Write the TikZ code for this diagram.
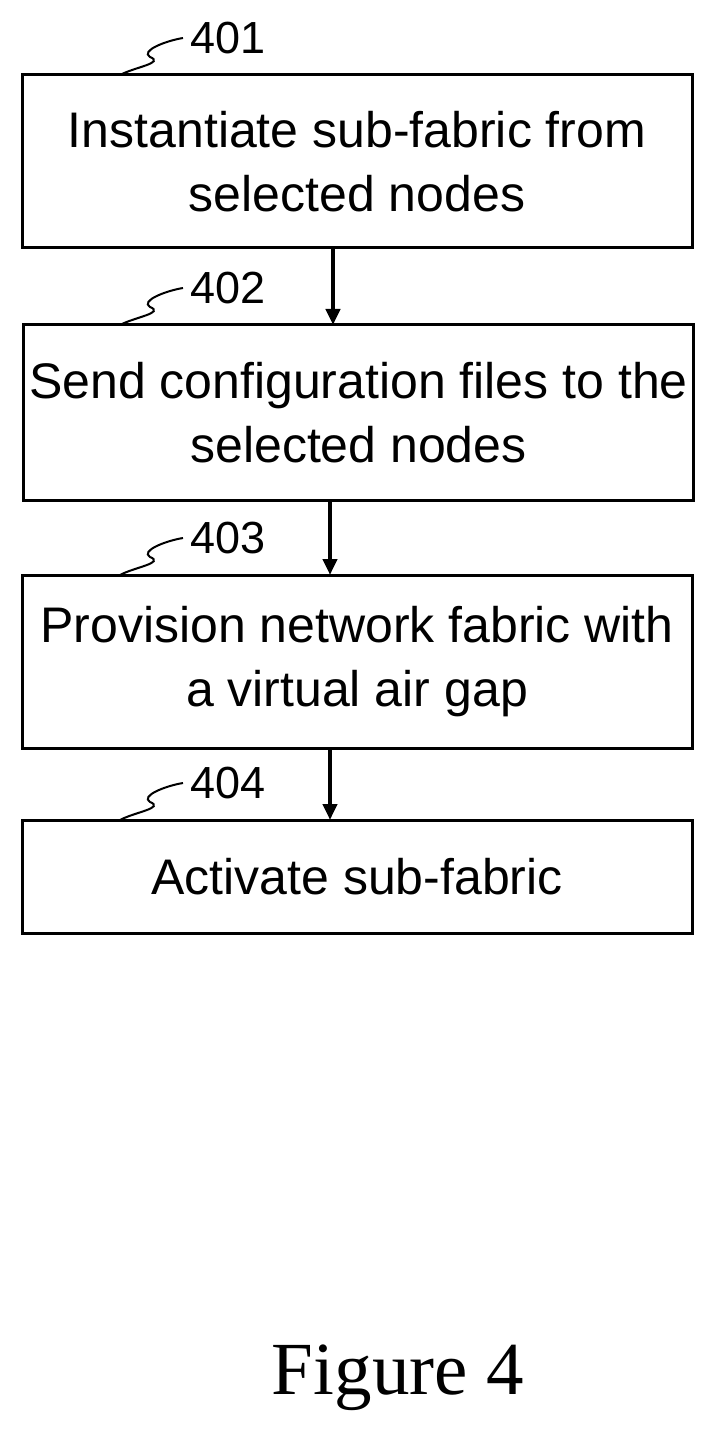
\documentclass[tikz,border=0pt]{standalone}
\usepackage{fontspec}
\setmainfont{Liberation Sans}
\newfontfamily\figfont{Liberation Serif}
\usetikzlibrary{positioning,arrows.meta}
\tikzset{
    stepbox/.style = {draw, line width=1.5pt, minimum width=335pt, align=center,
        font=\fontsize{25}{32}\selectfont, inner sep=0pt},
    ref/.style = {font=\fontsize{22.5}{26}\selectfont, anchor=west},
    flow/.style = {-{Triangle[length=8pt,width=7pt]}, line width=2pt}
}
\begin{document}
\begin{tikzpicture}[x = 0.5pt, y = -0.5pt]
    \useasboundingbox (0,0) rectangle (718,1438);
    % boxes
    \node[stepbox, minimum height=86.5pt] (s1) at (357,161.5) {Instantiate sub-fabric from\\selected nodes};
    \node[stepbox, minimum height=87.5pt] (s2) at (358.5,412.5) {Send configuration files to the\\selected nodes};
    \node[stepbox, minimum height=86.5pt] (s3) at (357,661.5) {Provision network fabric with\\a virtual air gap};
    \node[stepbox, minimum height=56.5pt] (s4) at (357,876.5) {Activate sub-fabric};
    % arrows
    \draw[flow] (333,248) -- (333,325);
    \draw[flow] (330,500) -- (330,575);
    \draw[flow] (330,748) -- (330,820);
    % reference numbers
    \foreach \n/\y in {401/75, 402/325, 403/575, 404/820} {
        \node[ref] (r\n) at (183,\y-37) {\n};
        \draw[line width=1pt] (120,\y) .. controls (135,\y-8) and (165,\y-12) .. (150,\y-18)
            .. controls (140,\y-24) and (165,\y-34) .. (r\n.west);
    }
    \node[font=\figfont\fontsize{37.5}{42}\selectfont] (fig) at (398,1378) {Figure 4};
\end{tikzpicture}
\end{document}
